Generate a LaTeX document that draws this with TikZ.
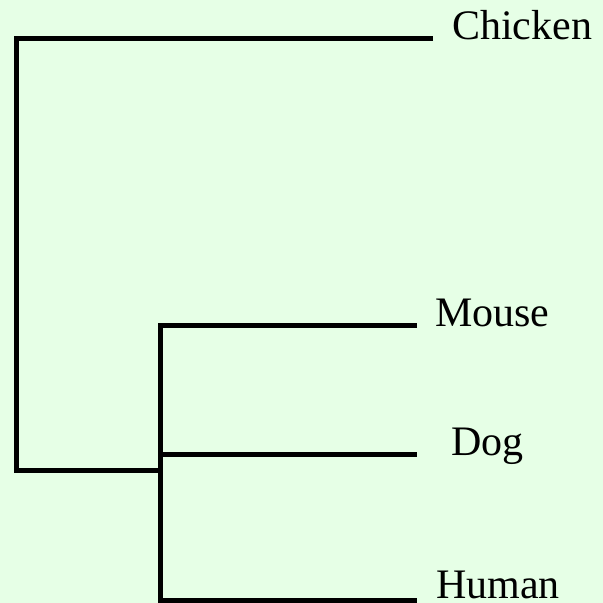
\documentclass[tikz,border=0pt]{standalone}
\usepackage{fontspec}
\setmainfont{Liberation Serif}
\definecolor{bgmint}{RGB}{230,255,230}
\begin{document}
\begin{tikzpicture}[x=1pt,y=-1pt,
  branch/.style={draw=black,line width=5pt,line cap=butt,line join=miter},
  leaf/.style={anchor=base west,inner sep=0pt,font=\fontsize{42}{50}\selectfont}]
\fill[bgmint] (0,0) rectangle (603,603);
\useasboundingbox (0,0) rectangle (603,603);
% tree coordinates
\coordinate (root) at (16.5,470);
\coordinate (inner) at (160.5,470);
\coordinate (cEnd) at (433,38.5);
\coordinate (mEnd) at (417,325);
\coordinate (dEnd) at (417,454.5);
\coordinate (hEnd) at (417,600);
% labels
\node[leaf] (chicken) at (452,39) {Chicken};
\node[leaf] (mouse) at (435,326) {Mouse};
\node[leaf] (dog) at (451,455) {Dog};
\node[leaf] (human) at (436,598) {Human};
% branches
\draw[branch] (cEnd) -- (root |- cEnd) -- (root) -- (inner);
\draw[branch] (mEnd) -- (inner |- mEnd) -- (inner |- hEnd) -- (hEnd);
\draw[branch] (inner |- dEnd) -- (dEnd);
\end{tikzpicture}
\end{document}
